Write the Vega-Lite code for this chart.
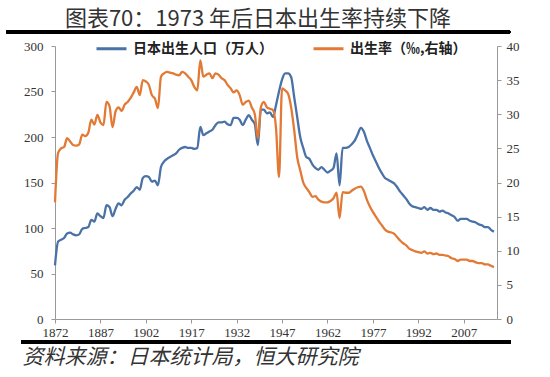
{
  "$schema": "https://vega.github.io/schema/vega-lite/v6.json",
  "width": 442,
  "height": 273,
  "autosize": {"type": "none"},
  "padding": {"left": 55, "top": 46, "right": 53, "bottom": 58},
  "background": "white",
  "config": {"view": {"stroke": null}, "font": "Noto Sans CJK SC"},
  "title": {"text": "图表70：1973 年后日本出生率持续下降", "font": "Noto Sans CJK SC", "fontSize": 22, "fontWeight": "normal", "color": "#333333", "anchor": "middle", "dx": -18, "offset": -1},
  "data": {"values": [
    {"year":1872,"births":59,"rate":17.1},{"year":1873,"births":85,"rate":24.3},{"year":1874,"births":87,"rate":25.0},{"year":1875,"births":89,"rate":25.2},{"year":1876,"births":94,"rate":26.5},{"year":1877,"births":95,"rate":26.0},{"year":1878,"births":93,"rate":25.5},{"year":1879,"births":92,"rate":25.4},{"year":1880,"births":93,"rate":25.6},{"year":1881,"births":99,"rate":27.0},{"year":1882,"births":100,"rate":26.8},{"year":1883,"births":101,"rate":27.3},{"year":1884,"births":109,"rate":29.2},{"year":1885,"births":107,"rate":28.5},{"year":1886,"births":116,"rate":29.9},{"year":1887,"births":113,"rate":28.8},{"year":1888,"births":111,"rate":28.4},{"year":1889,"births":125,"rate":31.8},{"year":1890,"births":123,"rate":31.2},{"year":1891,"births":113,"rate":28.1},{"year":1892,"births":121,"rate":30.4},{"year":1893,"births":127,"rate":31.0},{"year":1894,"births":125,"rate":30.5},{"year":1895,"births":131,"rate":31.4},{"year":1896,"births":134,"rate":31.8},{"year":1897,"births":138,"rate":32.4},{"year":1898,"births":141,"rate":33.2},{"year":1899,"births":145,"rate":34.0},
    {"year":1900,"births":142,"rate":32.8},{"year":1901,"births":155,"rate":35.0},{"year":1902,"births":157,"rate":34.8},{"year":1903,"births":156,"rate":34.3},{"year":1904,"births":151,"rate":32.8},{"year":1905,"births":152,"rate":32.3},{"year":1906,"births":147,"rate":30.9},{"year":1907,"births":167,"rate":35.5},{"year":1908,"births":173,"rate":36.0},{"year":1909,"births":176,"rate":36.2},{"year":1910,"births":178,"rate":36.1},{"year":1911,"births":180,"rate":36.0},{"year":1912,"births":182,"rate":35.8},{"year":1913,"births":186,"rate":35.7},{"year":1914,"births":188,"rate":36.2},{"year":1915,"births":189,"rate":36.0},{"year":1916,"births":188,"rate":35.5},{"year":1917,"births":188,"rate":35.0},{"year":1918,"births":187,"rate":34.0},{"year":1919,"births":188,"rate":33.5},
    {"year":1920,"births":211,"rate":37.9},{"year":1921,"births":202,"rate":35.5},{"year":1922,"births":204,"rate":35.8},{"year":1923,"births":206,"rate":36.0},{"year":1924,"births":208,"rate":35.3},{"year":1925,"births":213,"rate":36.0},{"year":1926,"births":216,"rate":35.8},{"year":1927,"births":216,"rate":35.3},{"year":1928,"births":217,"rate":35.0},{"year":1929,"births":214,"rate":34.3},{"year":1930,"births":213,"rate":33.8},{"year":1931,"births":221,"rate":33.2},{"year":1932,"births":221,"rate":33.5},{"year":1933,"births":219,"rate":32.8},{"year":1934,"births":213,"rate":31.4},{"year":1935,"births":219,"rate":31.8},{"year":1936,"births":224,"rate":32.0},{"year":1937,"births":219,"rate":31.0},{"year":1938,"births":214,"rate":30.0},{"year":1939,"births":191,"rate":26.5},
    {"year":1940,"births":230,"rate":31.0},{"year":1941,"births":230,"rate":31.8},{"year":1942,"births":226,"rate":31.0},{"year":1943,"births":227,"rate":30.8},{"year":1944,"births":222,"rate":30.6},{"year":1945,"births":235,"rate":28.0},{"year":1946,"births":250,"rate":20.8},{"year":1947,"births":263,"rate":33.8},{"year":1948,"births":270,"rate":33.5},{"year":1949,"births":270,"rate":33.0},{"year":1950,"births":266,"rate":31.0},{"year":1951,"births":244,"rate":27.7},{"year":1952,"births":222,"rate":23.7},{"year":1953,"births":200,"rate":21.8},{"year":1954,"births":188,"rate":20.0},{"year":1955,"births":178,"rate":19.2},{"year":1956,"births":176,"rate":18.6},{"year":1957,"births":170,"rate":17.9},{"year":1958,"births":166,"rate":18.0},{"year":1959,"births":164,"rate":17.5},
    {"year":1960,"births":167,"rate":17.2},{"year":1961,"births":164,"rate":17.1},{"year":1962,"births":161,"rate":17.1},{"year":1963,"births":163,"rate":17.3},{"year":1964,"births":166,"rate":17.7},{"year":1965,"births":182,"rate":18.5},{"year":1966,"births":147,"rate":14.8},{"year":1967,"births":188,"rate":18.6},{"year":1968,"births":188,"rate":18.5},{"year":1969,"births":189,"rate":18.5},{"year":1970,"births":192,"rate":18.8},{"year":1971,"births":196,"rate":19.1},{"year":1972,"births":203,"rate":19.3},{"year":1973,"births":210,"rate":19.4},{"year":1974,"births":206,"rate":18.8},{"year":1975,"births":196,"rate":17.5},{"year":1976,"births":188,"rate":16.5},{"year":1977,"births":180,"rate":15.7},{"year":1978,"births":173,"rate":15.0},{"year":1979,"births":166,"rate":14.3},
    {"year":1980,"births":160,"rate":13.7},{"year":1981,"births":155,"rate":13.1},{"year":1982,"births":153,"rate":12.8},{"year":1983,"births":151,"rate":12.7},{"year":1984,"births":149,"rate":12.5},{"year":1985,"births":145,"rate":12.0},{"year":1986,"births":140,"rate":11.5},{"year":1987,"births":136,"rate":11.1},{"year":1988,"births":132,"rate":10.8},{"year":1989,"births":127,"rate":10.3},{"year":1990,"births":124,"rate":10.1},{"year":1991,"births":123,"rate":9.9},{"year":1992,"births":122,"rate":9.8},{"year":1993,"births":121,"rate":9.7},{"year":1994,"births":123,"rate":9.9},{"year":1995,"births":120,"rate":9.6},{"year":1996,"births":122,"rate":9.7},{"year":1997,"births":120,"rate":9.5},{"year":1998,"births":120,"rate":9.6},{"year":1999,"births":118,"rate":9.4},
    {"year":2000,"births":119,"rate":9.4},{"year":2001,"births":117,"rate":9.3},{"year":2002,"births":116,"rate":9.2},{"year":2003,"births":114,"rate":8.9},{"year":2004,"births":112,"rate":8.8},{"year":2005,"births":108,"rate":8.5},{"year":2006,"births":110,"rate":8.7},{"year":2007,"births":110,"rate":8.7},{"year":2008,"births":110,"rate":8.7},{"year":2009,"births":108,"rate":8.5},{"year":2010,"births":107,"rate":8.5},{"year":2011,"births":106,"rate":8.3},{"year":2012,"births":104,"rate":8.2},{"year":2013,"births":103,"rate":8.2},{"year":2014,"births":101,"rate":8.0},{"year":2015,"births":101,"rate":8.0},{"year":2016,"births":98,"rate":7.8},{"year":2017,"births":96,"rate":7.6}
  ]},
  "layer": [
    {
      "layer": [
        {
          "mark": {"type": "line", "strokeWidth": 2.3, "interpolate": "monotone"},
          "encoding": {
            "x": {"field": "year", "type": "quantitative",
              "scale": {"domain": [1872, 2018], "nice": false, "zero": false},
              "axis": {"values": [1872,1887,1902,1917,1932,1947,1962,1977,1992,2007], "format": "d", "grid": false, "labelFlush": false,
                "labelFont": "Liberation Serif", "labelFontSize": 13, "labelColor": "#333333", "labelPadding": 3,
                "tickSize": 4, "tickColor": "#999999", "domainColor": "#999999",
                "title": "资料来源：日本统计局，恒大研究院", "titleFont": "Noto Sans CJK SC", "titleFontSize": 21, "titleFontStyle": "italic", "titleFontWeight": "normal", "titleColor": "#333333",
                "titleAnchor": "start", "titleAlign": "left", "titleBaseline": "middle", "titleX": -33, "titleY": 38}},
            "y": {"field": "births", "type": "quantitative",
              "scale": {"domain": [0, 300], "nice": false},
              "axis": {"orient": "left", "values": [0,50,100,150,200,250,300], "grid": false, "title": null,
                "labelFont": "Liberation Serif", "labelFontSize": 13, "labelColor": "#333333", "labelPadding": 8,
                "tickSize": 4, "tickColor": "#999999", "domainColor": "#999999"}},
            "color": {"datum": "日本出生人口（万人）", "type": "nominal",
              "scale": {"domain": ["日本出生人口（万人）", "出生率（‰,右轴）"], "range": ["#4A72A6", "#E27A35"]},
              "legend": {"orient": "none", "legendX": 40, "legendY": -14, "direction": "horizontal", "title": null,
                "symbolType": "stroke", "symbolSize": 900, "symbolStrokeWidth": 3,
                "labelFont": "Noto Sans CJK SC", "labelFontSize": 14, "labelFontWeight": "bold", "labelColor": "#222222",
                "labelOffset": 5, "columnPadding": 34, "labelLimit": 300}}
          }
        },
        {
          "mark": {"type": "rule", "color": "black", "strokeWidth": 3.5},
          "encoding": {
            "x": {"datum": 1856, "type": "quantitative"},
            "x2": {"datum": 2022.3},
            "y": {"datum": 315.4, "type": "quantitative"}
          }
        },
        {
          "mark": {"type": "rule", "color": "black", "strokeWidth": 4},
          "encoding": {
            "x": {"datum": 1861, "type": "quantitative"},
            "x2": {"datum": 2022.3},
            "y": {"datum": -25.3, "type": "quantitative"}
          }
        }
      ]
    },
    {
      "mark": {"type": "line", "strokeWidth": 2.3, "interpolate": "monotone"},
      "encoding": {
        "x": {"field": "year", "type": "quantitative"},
        "y": {"field": "rate", "type": "quantitative",
          "scale": {"domain": [0, 40], "nice": false},
          "axis": {"orient": "right", "values": [0,5,10,15,20,25,30,35,40], "grid": false, "title": null,
            "labelFont": "Liberation Serif", "labelFontSize": 13, "labelColor": "#333333", "labelPadding": 5,
            "tickSize": 4, "tickColor": "#999999", "domainColor": "#999999"}},
        "color": {"datum": "出生率（‰,右轴）", "type": "nominal"}
      }
    }
  ],
  "resolve": {"scale": {"y": "independent"}}
}
